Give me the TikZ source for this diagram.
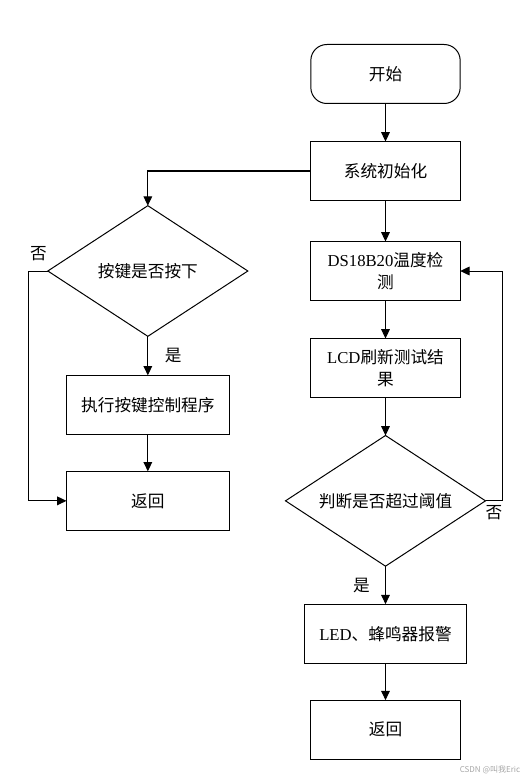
\documentclass[tikz,border=0pt]{standalone}
\usepackage{fontspec}
\setmainfont{Noto Sans CJK SC}
\newfontfamily\latin{Liberation Serif}
\usetikzlibrary{arrows.meta, positioning, shapes.geometric}

\begin{document}
\begin{tikzpicture}[
    x=0.75pt, y=-0.75pt,
    box/.style={draw, line width=0.75pt, outer sep=0pt, minimum width=112pt,
                minimum height=44.25pt, align=center, font=\fontsize{12.5}{16}\selectfont},
    widebox/.style={box, minimum width=122pt},
    startbox/.style={box, rounded corners=12pt},
    dia/.style={draw, diamond, aspect=2, inner sep=0pt, outer sep=0pt, line width=0.75pt,
                minimum width=150pt, minimum height=98pt,
                font=\fontsize{12.5}{16}\selectfont},
    lbl/.style={font=\fontsize{12.5}{16}\selectfont},
    arr/.style={-{Triangle[length=7pt, width=6.5pt]}, line width=0.75pt}
  ]
  \useasboundingbox (0,0) rectangle (529,781);
  % right column
  \node[startbox] (start) at (385.5,74) {开始};
  \node[box, below=28.5pt of start] (init) {系统初始化};
  \node[box, below=30.75pt of init] (ds) {{\latin DS18B20}温度检\\测};
  \node[box, below=28.5pt of ds] (lcd) {{\latin LCD}刷新测试结\\果};
  \node[dia, below=28.5pt of lcd] (judge) {判断是否超过阈值};
  \node[widebox, below=28.5pt of judge] (alarm) {{\latin LED}、蜂鸣器报警};
  \node[box, below=27.75pt of alarm] (ret) {返回};
  % left column
  \node[dia, left=47.25pt of ds] (key) {按键是否按下};
  \node[widebox, below=29.25pt of key] (exec) {执行按键控制程序};
  \node[widebox, below=27.75pt of exec] (retkey) {返回};

  \draw[arr] (start) -- (init);
  \draw[arr] (init) -- (ds);
  \draw[arr] (ds) -- (lcd);
  \draw[arr] (lcd) -- (judge);
  \draw[arr] (judge) -- node[lbl, left=8pt]{是} (alarm);
  \draw[arr] (alarm) -- (ret);
  \draw[arr] (judge.east) -- node[lbl, below]{否} ++(17,0) |- (ds.east);
  \draw[arr] (init.west) -| (key.north);
  \draw[arr] (key) -- node[lbl, right=9pt]{是} (exec);
  \draw[arr] (exec) -- (retkey);
  \draw[arr] (key.west) -- node[lbl, above=4pt]{否} ++(-19,0) |- (retkey.west);

  \node[font=\fontsize{6}{7}\selectfont, text=black!35] (mark) at (490,770) {CSDN @叫我Eric};
\end{tikzpicture}
\end{document}
